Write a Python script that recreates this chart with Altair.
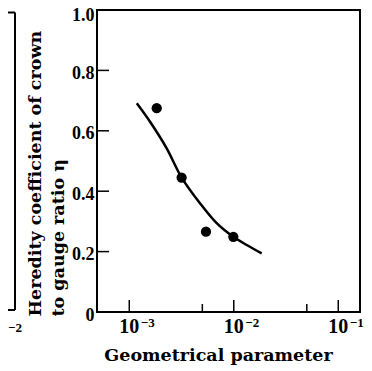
import altair as alt
import pandas as pd

# measured points
pt_x = [1.83e-3, 3.17e-3, 5.42e-3, 9.9e-3]
pt_y = [0.675, 0.445, 0.266, 0.249]

# fitted curve
cv_x = [1.18e-3, 1.58e-3, 2.28e-3, 3.17e-3, 4.75e-3, 6.86e-3, 9.89e-3, 1.33e-2, 1.85e-2]
cv_y = [0.691, 0.630, 0.542, 0.445, 0.360, 0.294, 0.249, 0.222, 0.194]

# axis ticks
x_major = [1e-3, 1e-2, 1e-1]
x_exp = ["\u22123", "\u22122", "\u22121"]
x_minor = [5e-3, 5e-2]
y_ticks = [0.2, 0.4, 0.6, 0.8]
y_labels = [0, 0.2, 0.4, 0.6, 0.8, 1.0]

W, H = 263, 302
TFONT = "DejaVu Serif, Liberation Serif, serif"
LFONT = "Liberation Serif"

xs = alt.Scale(type="log", domain=[4.91e-4, 0.1614], nice=False)
ys = alt.Scale(domain=[0, 1], nice=False, zero=False)

x_axis = alt.Axis(
    labels=False, ticks=False, domain=False, grid=False,
    title="Geometrical parameter", titleFont=TFONT, titleFontSize=17.5,
    titleFontWeight="bold", titleColor="black", titleX=121, titleY=48,
    titleAlign="center", titleBaseline="alphabetic")
y_axis = alt.Axis(
    values=y_labels, ticks=False, tickSize=0, domain=False, grid=False,
    labelExpr="datum.value == 0 ? '0' : format(datum.value, '.1f')",
    labelFont=LFONT, labelFontSize=18, labelFontWeight="bold", labelColor="black",
    labelPadding=3,
    labelOffset={"condition": {"test": "datum.value >= 1", "value": 5.5}, "value": 3},
    title=["Heredity coefficient of crown", "to gauge ratio \u03b7"],
    titleFont=TFONT, titleFontSize=17.5, titleFontWeight="bold", titleColor="black",
    titleAngle=270, titleAlign="left", titleBaseline="alphabetic",
    titleX=-57, titleY=306, titleLineHeight=23)

X = lambda: alt.X("x:Q", scale=xs, axis=x_axis)
Y = lambda: alt.Y("y:Q", scale=ys, axis=y_axis)

pts = pd.DataFrame({"x": pt_x, "y": pt_y})
curve = pd.DataFrame({"x": cv_x, "y": cv_y})
xmaj = pd.DataFrame({"x": x_major, "exp": x_exp, "base": ["10"] * 3})
xmin = pd.DataFrame({"x": x_minor})
ytk = pd.DataFrame({"y": y_ticks})
one = pd.DataFrame({"a": [0]})

line = alt.Chart(curve).mark_line(color="black", strokeWidth=2.5, interpolate="catmull-rom").encode(
    x=X(), y=Y())

dots = alt.Chart(pts).mark_circle(color="black", size=105, opacity=1).encode(x=X(), y=Y())

xmaj_t = alt.Chart(xmaj).mark_rule(color="black", strokeWidth=1.5).encode(
    x=X(), y=alt.value(H), y2=alt.value(H - 12))
xmin_t = alt.Chart(xmin).mark_rule(color="black", strokeWidth=1.5).encode(
    x=X(), y=alt.value(H), y2=alt.value(H - 8))
y_t = alt.Chart(ytk).mark_rule(color="black", strokeWidth=1.5).encode(
    y=Y(), x=alt.value(0), x2=alt.value(12))

xbase = alt.Chart(xmaj).mark_text(font=LFONT, fontSize=20, fontWeight="bold", color="black",
                                  align="center", baseline="alphabetic").encode(
    x=X(), y=alt.value(323), text="base:N")
xexp = alt.Chart(xmaj).mark_text(font=LFONT, fontSize=13, fontWeight="bold", color="black",
                                 align="left", baseline="alphabetic", dx=11.5).encode(
    x=X(), y=alt.value(316.5), text="exp:N")

# fragment of the neighbouring panel at the left edge
frag_v = alt.Chart(one).mark_rule(color="black", strokeWidth=2).encode(
    x=alt.value(-82), y=alt.value(2.5), y2=alt.value(300))
frag_t = alt.Chart(one).mark_rule(color="black", strokeWidth=2).encode(
    x=alt.value(-95), x2=alt.value(-82), y=alt.value(2.5))
frag_b = alt.Chart(one).mark_rule(color="black", strokeWidth=2).encode(
    x=alt.value(-95), x2=alt.value(-82), y=alt.value(300))
frag_exp = alt.Chart(one).mark_text(font=LFONT, fontSize=13, fontWeight="bold", color="black",
                                    align="left", baseline="alphabetic", text="\u22122").encode(
    x=alt.value(-89), y=alt.value(321.5))

chart = alt.layer(line, dots, xmaj_t, xmin_t, y_t, xbase, xexp,
                  frag_v, frag_t, frag_b, frag_exp).properties(
    width=W, height=H,
    autosize=alt.AutoSizeParams(type="none"),
    padding={"left": 89, "top": 2, "right": 4, "bottom": 55},
).configure_view(stroke="black", strokeWidth=2)

chart.save("out.html", embed_options={"renderer": "svg", "actions": False})
